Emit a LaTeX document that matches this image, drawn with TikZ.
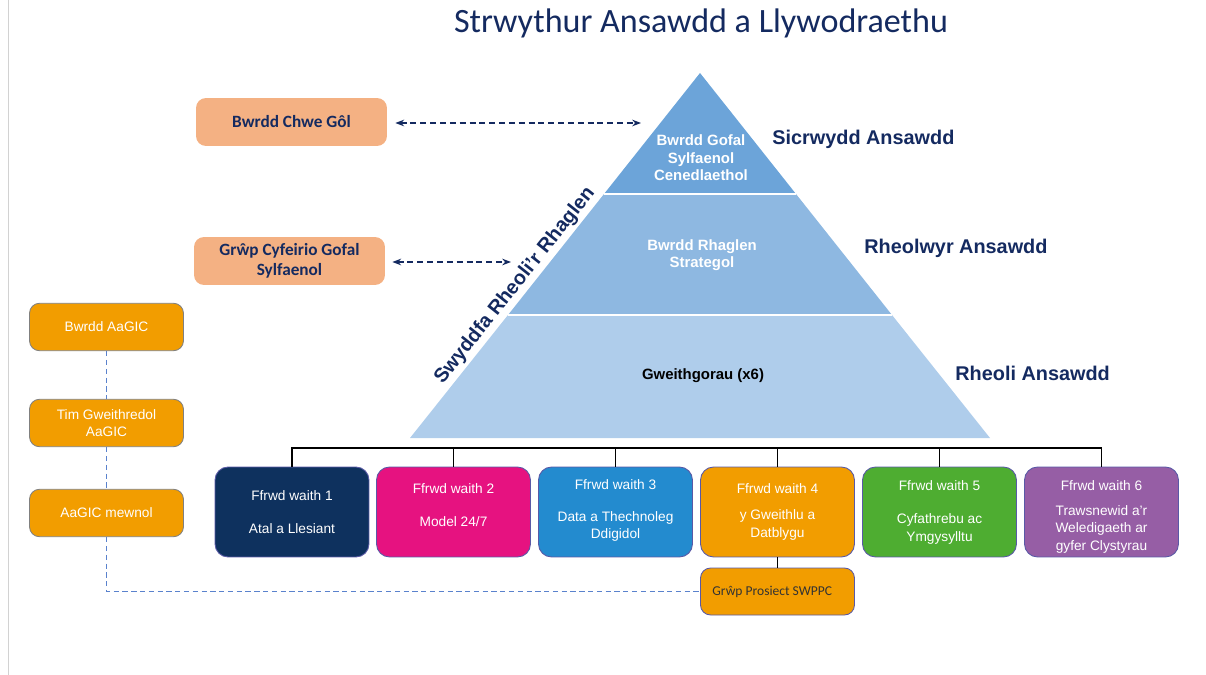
\documentclass[tikz,border=0pt]{standalone}
\usepackage{fontspec}
\setmainfont{Liberation Sans}
\newfontfamily\calibfont{Carlito}
\usepackage{tikz}
\usetikzlibrary{arrows.meta}

\definecolor{navytext}{RGB}{20,42,96}
\definecolor{peachbox}{RGB}{244,177,131}
\definecolor{orangebox}{RGB}{242,157,0}
\definecolor{wsnavy}{RGB}{14,49,94}
\definecolor{wspink}{RGB}{230,18,128}
\definecolor{wsblue}{RGB}{35,139,207}
\definecolor{wsgreen}{RGB}{78,173,49}
\definecolor{wspurple}{RGB}{150,94,165}
\definecolor{pyrtop}{RGB}{108,164,217}
\definecolor{pyrmid}{RGB}{142,184,225}
\definecolor{pyrlow}{RGB}{175,205,235}
\definecolor{aagicline}{RGB}{90,130,205}

\begin{document}
\begin{tikzpicture}[x=0.02cm,y=-0.02cm,
  box/.style={rounded corners=0.2cm, minimum width=3.08cm, align=center, inner sep=1pt},
  wsbox/.style={box, draw=gray!70!blue, line width=0.5pt, minimum height=1.8cm,
    rounded corners=0.26cm, text=white, font=\fontsize{7.8}{10}\selectfont},
  aagic/.style={box, fill=orangebox, draw=gray, line width=0.5pt, minimum height=0.95cm,
    text=white, font=\fontsize{7.8}{9.4}\selectfont},
  peach/.style={box, fill=peachbox, minimum width=3.82cm, minimum height=0.96cm,
    text=navytext, font=\calibfont\bfseries\fontsize{9.8}{11.6}\selectfont},
  tier/.style={align=center, inner sep=0pt, font=\bfseries\fontsize{8.5}{9.9}\selectfont},
  level/.style={anchor=west, inner sep=0pt, text=navytext, font=\bfseries\fontsize{11.3}{13}\selectfont},
  link/.style={navytext, line width=1pt, dash pattern=on 3.4pt off 2.2pt, {Stealth[length=5pt]}-{Stealth[length=5pt]}},
  bus/.style={black, line width=0.8pt}]
  \useasboundingbox (0,0) rectangle (1206,675);
  \draw[gray!35] (8,0) -- (8,675);

  \node[text=navytext, font=\calibfont\fontsize{19.4}{21}\selectfont] (title) at (701,23) {Strwythur Ansawdd a Llywodraethu};

  % pyramid
  \coordinate (apex) at (700,73);
  \coordinate (bl) at (410,438);
  \coordinate (br) at (990,438);
  \fill[pyrtop] (apex) -- (796,194) -- (604,194) -- cycle;
  \fill[pyrmid] (604,194) -- (796,194) -- (892,315) -- (508,315) -- cycle;
  \fill[pyrlow] (508,315) -- (892,315) -- (br) -- (bl) -- cycle;
  \draw[white, line width=1.2pt] (604,194) -- (796,194);
  \draw[white, line width=1.2pt] (508,315) -- (892,315);
  \node[tier, text=white] (tier1) at (701,158) {Bwrdd Gofal\\Sylfaenol\\Cenedlaethol};
  \node[tier, text=white] (tier2) at (702,255) {Bwrdd Rhaglen\\Strategol};
  \node[tier, text=black] (tier3) at (703,376) {Gweithgorau (x6)};
  \node[level, rotate=51.5, anchor=center] (office) at (515,286) {Swyddfa Rheoli’r Rhaglen};

  \node[level] (sicr) at (772,139) {Sicrwydd Ansawdd};
  \node[level] (rheolwyr) at (864,248) {Rheolwyr Ansawdd};
  \node[level] (rheoli) at (955,373) {Rheoli Ansawdd};

  % national groups
  \node[peach] (chwe) at (291.5,122) {Bwrdd Chwe Gôl};
  \node[peach] (cyfeirio) at (289.5,261) {Grŵp Cyfeirio Gofal\\Sylfaenol};
  \coordinate (topin) at (641,123);
  \coordinate (midin) at (511,262);
  \draw[link, shorten <=0.16cm] (chwe.east |- topin) -- (topin);
  \draw[link, shorten <=0.14cm] (cyfeirio.east |- midin) -- (midin);

  % health board
  \node[aagic] (aagic1) at (106.5,327) {Bwrdd AaGIC};
  \node[aagic] (aagic2) at (106.5,423) {Tim Gweithredol\\AaGIC};
  \node[aagic] (aagic3) at (106.5,513) {AaGIC mewnol};

  % workstreams
  \node[wsbox, fill=wsnavy] (ws1) at (292,512) {Ffrwd waith 1\\[9pt]Atal a Llesiant};
  \node[wsbox, fill=wspink] (ws2) at (453.5,512) {Ffrwd waith 2\\[9pt]Model 24/7\\[-2pt]\mbox{}};
  \node[wsbox, fill=wsblue] (ws3) at (615.5,512) {\mbox{}\\[-6pt]Ffrwd waith 3\\[8pt]Data a Thechnoleg\\Ddigidol};
  \node[wsbox, fill=orangebox] (ws4) at (777.5,512) {Ffrwd waith 4\\[5pt]y Gweithlu a\\Datblygu};
  \node[wsbox, fill=wsgreen] (ws5) at (939.5,512) {Ffrwd waith 5\\[9pt]Cyfathrebu ac\\Ymgysylltu};
  \node[wsbox, fill=wspurple] (ws6) at (1101.5,512) {\mbox{}\\[1.4pt]Ffrwd waith 6\\[4pt]Trawsnewid a’r\\Weledigaeth ar\\gyfer Clystyrau};
  \node[box, fill=orangebox, draw=gray!70!blue, line width=0.5pt, minimum height=0.94cm,
    text=black!80, font=\calibfont\fontsize{7.7}{9}\selectfont] (swppc) at (777.5,591.5) {Grŵp Prosiect SWPPC\hspace{6pt}};

  \coordinate (busline) at (0,448);
  \draw[bus] (ws1.north) |- (busline -| ws6.north) -- (ws6.north);
  \foreach \i in {2,...,5} \draw[bus] (ws\i.north) -- (ws\i.north |- busline);
  \draw[bus] (ws4.south) -- (swppc.north);

  \draw[aagicline, dash pattern=on 3pt off 2pt, line width=0.6pt] (aagic1.south) -- (aagic2.north);
  \draw[aagicline, dash pattern=on 3pt off 2pt, line width=0.6pt] (aagic2.south) -- (aagic3.north);
  \draw[aagicline, dash pattern=on 3pt off 2pt, line width=0.6pt] (aagic3.south) |- (swppc.west);
\end{tikzpicture}
\end{document}
